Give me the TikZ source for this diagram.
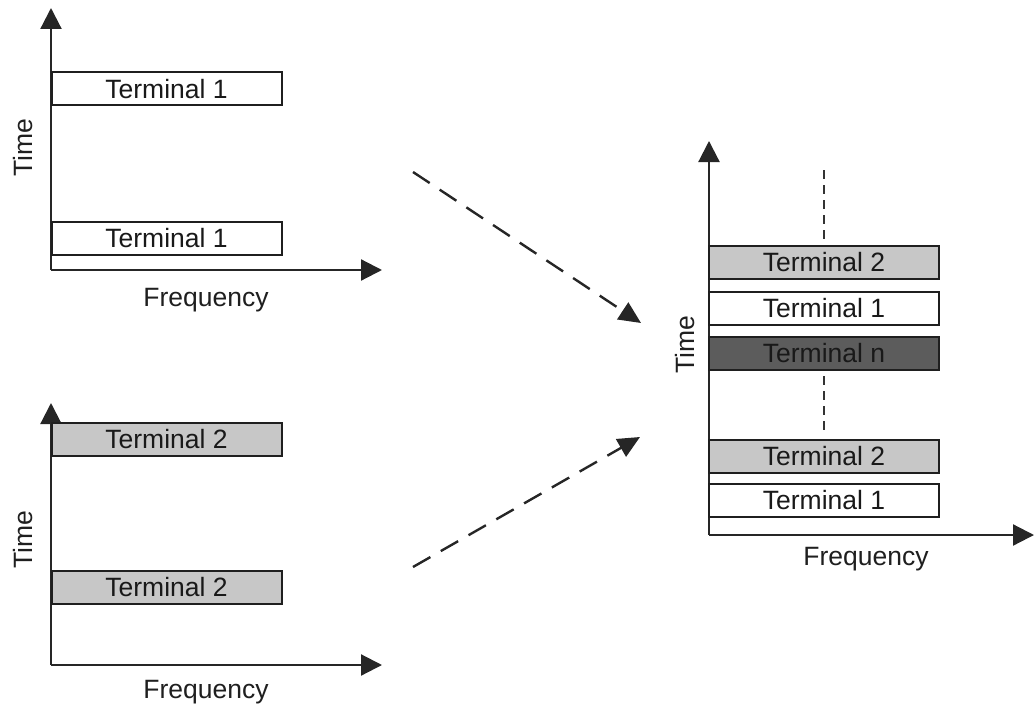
\documentclass[tikz,border=0pt]{standalone}
\usepackage{fontspec}
\setmainfont{Liberation Sans}
\usetikzlibrary{arrows.meta}
\begin{document}
\begin{tikzpicture}[x=1pt,y=-1pt,
  axis/.style={line width=2.2pt, draw=black!85, -{Triangle[length=21pt,width=21pt]}},
  slot/.style={draw=black!88, line width=2pt, minimum width=230pt, minimum height=33pt,
    inner sep=0pt, font=\fontsize{26.5}{30}\selectfont, text=black!90},
  free/.style={slot, fill=white},
  shared/.style={slot, fill=black!22},
  other/.style={slot, fill=black!64},
  lbl/.style={inner sep=0pt, font=\fontsize{26.5}{30}\selectfont, text=black!88},
  flow/.style={line width=2.4pt, draw=black!85, dash pattern=on 20pt off 12pt,
    -{Triangle[length=22pt,width=20pt]}},
  guide/.style={line width=1.6pt, draw=black!80, dash pattern=on 9pt off 6pt}]
\useasboundingbox (0,0) rectangle (1035,706);

% --- terminal 1 on its own ---
\coordinate (o1) at (51,270);
\coordinate (y1) at (51,8);
\coordinate (x1) at (382,270);
\draw[axis] (o1) -- (y1);
\draw[axis] (o1) -- (x1);
\node[free] (a1) at (166.5,89) {Terminal 1};
\node[free] (a2) at (166.5,238.5) {Terminal 1};
\node[lbl, rotate=90] (t1) at (23,148) {Time};
\node[lbl] (f1) at (206,300) {Frequency};

% --- terminal 2 on its own ---
\coordinate (o2) at (51,665);
\coordinate (y2) at (51,403);
\coordinate (x2) at (382,665);
\draw[axis] (o2) -- (y2);
\draw[axis] (o2) -- (x2);
\node[shared] (b1) at (166.5,439) {Terminal 2};
\node[shared] (b2) at (166.5,587) {Terminal 2};
\node[lbl, rotate=90] (t2) at (23,540) {Time};
\node[lbl] (f2) at (206,692) {Frequency};

% --- combined schedule ---
\coordinate (o3) at (709,535);
\coordinate (y3) at (709,141);
\coordinate (x3) at (1034,535);
\draw[axis] (o3) -- (y3);
\draw[axis] (o3) -- (x3);
\node[shared] (c1) at (824,262.5) {Terminal 2};
\node[free]   (c2) at (824,308)   {Terminal 1};
\node[other]  (c3) at (824,353.5) {Terminal n};
\node[shared] (c4) at (824,456.5) {Terminal 2};
\node[free]   (c5) at (824,500.5) {Terminal 1};
\node[lbl, rotate=90] (t3) at (685,345) {Time};
\node[lbl] (f3) at (866,559) {Frequency};

% ellipsis marks between slots
\coordinate (g1) at (824,170);
\draw[guide, shorten >=6pt] (g1) -- (c1.north);
\draw[guide, shorten <=5pt, shorten >=5pt] (c3.south) -- (c4.north);

% --- merging arrows ---
\coordinate (s1) at (413,172);
\coordinate (e1) at (641,323);
\coordinate (s2) at (413,567);
\coordinate (e2) at (640,437);
\draw[flow] (s1) -- (e1);
\draw[flow] (s2) -- (e2);
\end{tikzpicture}
\end{document}
